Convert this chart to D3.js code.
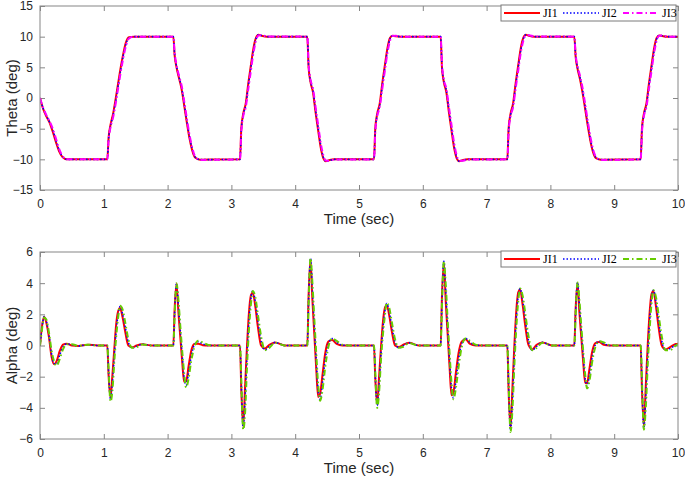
<!DOCTYPE html>
<html lang="en">
<head>
<meta charset="utf-8">
<title>Theta and Alpha response</title>
<script src="https://cdnjs.cloudflare.com/ajax/libs/d3/7.8.5/d3.min.js"></script>
<style>
body { margin: 0; background: #fff; }
svg { display: block; }
.tick text { font: 12px "Liberation Sans", Arial, sans-serif; fill: #262626; }
.tick line { stroke: #868686; }
.axis-title { font: 15px "Liberation Sans", Arial, sans-serif; fill: #262626; }
.legend text { font: 12px "Liberation Serif", "Times New Roman", serif; fill: #000; }
</style>
</head>
<body>
<div id="chart"></div>
<script>
// tick values
var timeTicks = [0, 1, 2, 3, 4, 5, 6, 7, 8, 9, 10];
var thetaTicks = [-15, -10, -5, 0, 5, 10, 15];
var alphaTicks = [-6, -4, -2, 0, 2, 4, 6];
var seriesNames = ["JI1", "JI2", "JI3"];

// Theta (deg), one line per transition
var thetaTime = [
  0, 0.05, 0.1, 0.15, 0.2, 0.25, 0.3, 0.35, 0.42,
  1.055, 1.075, 1.105, 1.145, 1.185, 1.225, 1.265, 1.305, 1.345, 1.395, 1.475,
  2.09, 2.11, 2.14, 2.18, 2.22, 2.26, 2.30, 2.34, 2.38, 2.43, 2.51,
  3.135, 3.155, 3.185, 3.225, 3.265, 3.305, 3.345, 3.385, 3.425, 3.475, 3.555,
  4.19, 4.21, 4.24, 4.28, 4.32, 4.36, 4.40, 4.44, 4.48, 4.53, 4.61,
  5.235, 5.255, 5.285, 5.325, 5.365, 5.405, 5.445, 5.485, 5.525, 5.575, 5.655,
  6.28, 6.30, 6.33, 6.37, 6.41, 6.45, 6.49, 6.53, 6.57, 6.62, 6.70,
  7.325, 7.345, 7.375, 7.415, 7.455, 7.495, 7.535, 7.575, 7.615, 7.665, 7.745,
  8.375, 8.395, 8.425, 8.465, 8.505, 8.545, 8.585, 8.625, 8.665, 8.715, 8.795,
  9.415, 9.435, 9.465, 9.505, 9.545, 9.585, 9.625, 9.665, 9.705, 9.755, 9.835,
  10
];
var thetaJ1 = [
  0, -1.8, -3.0, -4.0, -5.5, -7.2, -8.7, -9.6, -10,
  -10, -6.5, -4.4, -2.6, -0.2, 2.4, 5.0, 7.2, 9.0, 9.9, 10.0,
  10, 7.0, 5.0, 3.2, 1.4, -1.2, -3.9, -6.4, -8.3, -9.7, -10.05,
  -10, -5.0, -2.6, -0.9, 2.4, 5.3, 8.1, 9.8, 10.3, 10.15, 10.0,
  10, 5.0, 2.6, 0.9, -2.4, -5.3, -8.1, -9.8, -10.3, -10.15, -10.0,
  -10, -5.0, -2.6, -0.9, 2.4, 5.3, 8.1, 9.8, 10.15, 10.05, 10.0,
  10, 5.0, 2.6, 0.9, -2.4, -5.3, -8.1, -9.8, -10.3, -10.15, -10.0,
  -10, -5.0, -2.6, -0.9, 2.4, 5.3, 8.1, 9.8, 10.3, 10.15, 10.0,
  10, 6.8, 4.8, 3.0, 0.8, -1.8, -4.5, -6.9, -8.7, -9.8, -10.05,
  -10, -5.0, -2.6, -0.9, 2.4, 5.3, 8.1, 9.8, 10.2, 10.1, 10.0,
  10
];
var thetaJ2 = [
  0, -1.7, -2.9, -3.9, -5.2, -6.9, -8.5, -9.5, -10,
  -10, -6.7, -4.6, -2.9, -0.6, 2.0, 4.6, 6.9, 8.7, 9.8, 10.0,
  10, 7.2, 5.2, 3.4, 1.7, -0.9, -3.6, -6.1, -8.1, -9.6, -10.05,
  -10, -5.3, -2.8, -1.2, 2.0, 4.9, 7.7, 9.6, 10.3, 10.2, 10.0,
  10, 5.3, 2.8, 1.2, -2.0, -4.9, -7.7, -9.6, -10.3, -10.2, -10.0,
  -10, -5.3, -2.8, -1.2, 2.0, 4.9, 7.7, 9.6, 10.15, 10.1, 10.0,
  10, 5.3, 2.8, 1.2, -2.0, -4.9, -7.7, -9.6, -10.3, -10.2, -10.0,
  -10, -5.3, -2.8, -1.2, 2.0, 4.9, 7.7, 9.6, 10.3, 10.2, 10.0,
  10, 7.0, 5.0, 3.3, 1.2, -1.4, -4.1, -6.6, -8.5, -9.7, -10.05,
  -10, -5.3, -2.8, -1.2, 2.0, 4.9, 7.7, 9.6, 10.2, 10.15, 10.0,
  10
];
var thetaJ3 = [
  0, -1.6, -2.8, -3.8, -5.0, -6.6, -8.3, -9.4, -10,
  -10, -6.9, -4.8, -3.2, -1.0, 1.6, 4.2, 6.5, 8.4, 9.7, 10.0,
  10, 7.4, 5.4, 3.6, 2.0, -0.5, -3.2, -5.8, -7.8, -9.5, -10.1,
  -10, -5.6, -3.0, -1.5, 1.5, 4.4, 7.3, 9.3, 10.2, 10.25, 10.05,
  10, 5.6, 3.0, 1.5, -1.5, -4.4, -7.3, -9.3, -10.2, -10.25, -10.05,
  -10, -5.6, -3.0, -1.5, 1.5, 4.4, 7.3, 9.3, 10.1, 10.15, 10.0,
  10, 5.6, 3.0, 1.5, -1.5, -4.4, -7.3, -9.3, -10.2, -10.25, -10.05,
  -10, -5.6, -3.0, -1.5, 1.5, 4.4, 7.3, 9.3, 10.2, 10.25, 10.05,
  10, 7.2, 5.2, 3.6, 1.6, -1.0, -3.7, -6.2, -8.2, -9.6, -10.1,
  -10, -5.6, -3.0, -1.5, 1.5, 4.4, 7.3, 9.3, 10.15, 10.2, 10.0,
  10
];

// Alpha (deg), one line per swing
var alphaTime = [
  0, 0.03, 0.065, 0.1, 0.14, 0.18, 0.22, 0.26, 0.31, 0.36, 0.42, 0.5, 0.6, 0.75, 0.9,
  1.055, 1.075, 1.105, 1.135, 1.165, 1.195, 1.225, 1.255, 1.295, 1.335, 1.385, 1.445, 1.515, 1.605, 1.755,
  2.09, 2.11, 2.14, 2.17, 2.2, 2.23, 2.26, 2.29, 2.33, 2.37, 2.42, 2.48, 2.55, 2.64, 2.79,
  3.135, 3.155, 3.185, 3.215, 3.245, 3.275, 3.305, 3.335, 3.375, 3.415, 3.465, 3.525, 3.595, 3.685, 3.835,
  4.19, 4.21, 4.24, 4.27, 4.3, 4.33, 4.36, 4.39, 4.43, 4.47, 4.52, 4.58, 4.65, 4.74, 4.89,
  5.235, 5.255, 5.285, 5.315, 5.345, 5.375, 5.405, 5.435, 5.475, 5.515, 5.565, 5.625, 5.695, 5.785, 5.935,
  6.28, 6.3, 6.33, 6.36, 6.39, 6.42, 6.45, 6.48, 6.52, 6.56, 6.61, 6.67, 6.74, 6.83, 6.98,
  7.325, 7.345, 7.375, 7.405, 7.435, 7.465, 7.495, 7.525, 7.565, 7.605, 7.655, 7.715, 7.785, 7.875, 8.025,
  8.375, 8.395, 8.425, 8.455, 8.485, 8.515, 8.545, 8.575, 8.615, 8.655, 8.705, 8.765, 8.835, 8.925, 9.075,
  9.415, 9.435, 9.465, 9.495, 9.525, 9.555, 9.585, 9.615, 9.655, 9.695, 9.745, 9.805, 9.875, 9.965,
  10
];
var alphaJ1 = [
  0, 1.2, 1.85, 1.45, 0.55, -0.7, -1.2, -1.0, -0.35, 0.05, 0.12, 0.0, -0.03, 0.05, 0,
  0, -1.9, -3.35, -1.9, -0.2, 1.4, 2.2, 2.4, 1.8, 0.9, 0.0, -0.12, 0.0, 0.08, 0,
  0, 2.3, 3.95, 2.1, 0.5, -1.1, -2.35, -2.3, -1.3, -0.35, 0.1, 0.12, 0.02, 0.0, 0,
  0, -2.8, -5.2, -2.6, 0.0, 2.1, 3.2, 3.4, 2.5, 1.2, 0.0, -0.2, 0.05, 0.2, 0,
  0, 3.2, 5.5, 2.9, 0.7, -1.5, -3.3, -3.1, -1.8, -0.5, 0.25, 0.35, 0.1, 0.0, 0,
  0, -2.1, -3.75, -2.0, -0.1, 1.5, 2.4, 2.6, 1.9, 0.9, 0.0, -0.1, 0.05, 0.18, 0,
  0, 3.1, 5.3, 2.8, 0.7, -1.4, -3.2, -3.0, -1.7, -0.5, 0.25, 0.4, 0.1, 0.0, 0,
  0, -2.9, -5.3, -2.7, 0.0, 2.2, 3.4, 3.6, 2.6, 1.3, 0.05, -0.25, 0.05, 0.2, 0,
  0, 2.3, 4.0, 2.1, 0.5, -1.1, -2.4, -2.4, -1.4, -0.4, 0.15, 0.22, 0.05, 0.0, 0,
  0, -2.8, -5.15, -2.6, 0.0, 2.1, 3.3, 3.5, 2.5, 1.2, 0.0, -0.25, -0.1, 0.1,
  0.12
];
var alphaJ2 = [
  0, 1.1, 1.85, 1.55, 0.7, -0.5, -1.15, -1.2, -0.6, -0.1, 0.1, 0.05, -0.03, 0.05, 0,
  0, -1.7, -3.45, -2.4, -0.6, 1.0, 2.0, 2.5, 2.0, 1.2, 0.2, -0.15, -0.05, 0.08, 0,
  0, 2.1, 4.0, 2.5, 0.9, -0.7, -2.1, -2.55, -1.7, -0.7, 0.05, 0.25, 0.1, 0.0, 0,
  0, -2.5, -5.3, -3.3, -0.6, 1.6, 3.0, 3.5, 2.8, 1.6, 0.3, -0.28, -0.05, 0.2, 0,
  0, 2.9, 5.6, 3.5, 1.2, -1.0, -2.9, -3.45, -2.3, -0.9, 0.1, 0.45, 0.2, 0.02, 0,
  0, -1.9, -3.85, -2.5, -0.5, 1.1, 2.2, 2.7, 2.1, 1.2, 0.2, -0.15, 0.0, 0.18, 0,
  0, 2.8, 5.4, 3.4, 1.1, -1.0, -2.8, -3.35, -2.2, -0.9, 0.1, 0.45, 0.2, 0.02, 0,
  0, -2.6, -5.45, -3.4, -0.6, 1.7, 3.2, 3.65, 2.9, 1.7, 0.35, -0.3, -0.05, 0.2, 0,
  0, 2.1, 4.05, 2.5, 0.9, -0.7, -2.15, -2.6, -1.8, -0.75, 0.05, 0.27, 0.12, 0.0, 0,
  0, -2.5, -5.3, -3.3, -0.6, 1.6, 3.1, 3.55, 2.8, 1.6, 0.3, -0.3, -0.2, 0.05,
  0.12
];
var alphaJ3 = [
  0, 1.0, 1.8, 1.65, 0.85, -0.3, -1.0, -1.3, -0.85, -0.25, 0.08, 0.08, -0.02, 0.05, 0,
  0, -1.5, -3.6, -2.9, -1.0, 0.6, 1.8, 2.55, 2.3, 1.5, 0.4, -0.15, -0.1, 0.06, 0,
  0, 1.9, 4.0, 2.9, 1.2, -0.4, -1.8, -2.7, -2.1, -1.0, -0.1, 0.3, 0.2, 0.03, 0,
  0, -2.2, -5.4, -4.3, -1.3, 1.0, 2.6, 3.5, 3.1, 2.0, 0.6, -0.3, -0.15, 0.18, 0,
  0, 2.6, 5.6, 4.0, 1.7, -0.5, -2.5, -3.55, -2.8, -1.4, -0.1, 0.45, 0.3, 0.05, 0,
  0, -1.7, -4.0, -3.0, -0.9, 0.7, 1.9, 2.75, 2.4, 1.5, 0.4, -0.15, -0.08, 0.15, 0,
  0, 2.5, 5.4, 3.9, 1.6, -0.5, -2.4, -3.45, -2.7, -1.4, -0.1, 0.45, 0.3, 0.05, 0,
  0, -2.3, -5.55, -4.1, -1.3, 1.1, 2.8, 3.65, 3.2, 2.1, 0.65, -0.3, -0.15, 0.18, 0,
  0, 1.9, 4.05, 2.9, 1.2, -0.4, -1.85, -2.75, -2.2, -1.05, -0.1, 0.27, 0.2, 0.03, 0,
  0, -2.2, -5.4, -4.0, -1.3, 1.0, 2.7, 3.55, 3.1, 2.0, 0.6, -0.3, -0.3, 0.0,
  0.1
];

var W = 685, H = 477;
var plotLeft = 40, plotRight = 678;
var axisGray = "#868686";

var svg = d3.select("#chart").append("svg")
  .attr("width", W)
  .attr("height", H);

var x = d3.scaleLinear().domain([0, 10]).range([plotLeft, plotRight]);

function drawPanel(cfg) {
  var y = d3.scaleLinear().domain([cfg.ticks[0], cfg.ticks[cfg.ticks.length - 1]]).range([cfg.bottom, cfg.top]);
  var g = svg.append("g");

  g.append("clipPath").attr("id", cfg.id + "-clip")
    .append("rect")
    .attr("x", plotLeft).attr("y", cfg.top)
    .attr("width", plotRight - plotLeft).attr("height", cfg.bottom - cfg.top);

  // inward ticks on all four sides, labels only left/bottom
  g.append("g").attr("transform", "translate(0," + cfg.bottom + ")")
    .call(d3.axisBottom(x).tickValues(timeTicks).tickSize(-5).tickPadding(9).tickFormat(d3.format("d")))
    .call(function(a) { a.select(".domain").remove(); });
  g.append("g").attr("transform", "translate(0," + cfg.top + ")")
    .call(d3.axisTop(x).tickValues(timeTicks).tickSize(-5).tickFormat(""))
    .call(function(a) { a.select(".domain").remove(); });
  g.append("g").attr("transform", "translate(" + plotLeft + ",0)")
    .call(d3.axisLeft(y).tickValues(cfg.ticks).tickSize(-5).tickPadding(7).tickFormat(d3.format("d")))
    .call(function(a) { a.select(".domain").remove(); });
  g.append("g").attr("transform", "translate(" + plotRight + ",0)")
    .call(d3.axisRight(y).tickValues(cfg.ticks).tickSize(-5).tickFormat(""))
    .call(function(a) { a.select(".domain").remove(); });

  g.selectAll(".tick line").attr("stroke", axisGray);

  var line = d3.line()
    .x(function(d) { return x(d[0]); })
    .y(function(d) { return y(d[1]); })
    .curve(d3.curveMonotoneX);

  var lines = g.append("g").attr("clip-path", "url(#" + cfg.id + "-clip)");
  cfg.series.forEach(function(s, i) {
    var pts = cfg.time.map(function(t, k) { return [t, s[k]]; });
    lines.append("path")
      .attr("d", line(pts))
      .attr("fill", "none")
      .attr("stroke", cfg.colors[i])
      .attr("stroke-width", cfg.widths[i])
      .attr("stroke-dasharray", cfg.dashes[i])
      .attr("stroke-linejoin", "round");
  });

  // box
  g.append("rect")
    .attr("x", plotLeft).attr("y", cfg.top)
    .attr("width", plotRight - plotLeft).attr("height", cfg.bottom - cfg.top)
    .attr("fill", "none").attr("stroke", axisGray).attr("stroke-width", 1);

  g.append("text").attr("class", "axis-title")
    .attr("x", (plotLeft + plotRight) / 2).attr("y", cfg.bottom + 34)
    .attr("text-anchor", "middle")
    .text("Time (sec)");

  g.append("text").attr("class", "axis-title")
    .attr("transform", "translate(17," + ((cfg.top + cfg.bottom) / 2) + ") rotate(-90)")
    .attr("text-anchor", "middle")
    .text(cfg.label);

  // legend
  var lg = g.append("g").attr("class", "legend");
  lg.append("rect")
    .attr("x", 501).attr("y", cfg.top - 1)
    .attr("width", 175).attr("height", 16)
    .attr("fill", "#fff").attr("stroke", "#7a7a7a").attr("stroke-width", 1);
  var itemX = [504, 563, 623];
  seriesNames.forEach(function(name, i) {
    lg.append("line")
      .attr("x1", itemX[i]).attr("x2", itemX[i] + 36)
      .attr("y1", cfg.top + 7).attr("y2", cfg.top + 7)
      .attr("stroke", cfg.colors[i])
      .attr("stroke-width", cfg.widths[i])
      .attr("stroke-dasharray", cfg.dashes[i]);
    lg.append("text")
      .attr("x", itemX[i] + 39).attr("y", cfg.top + 11)
      .text(name);
  });
}

drawPanel({
  id: "theta", top: 6, bottom: 190, ticks: thetaTicks, label: "Theta (deg)",
  time: thetaTime, series: [thetaJ1, thetaJ2, thetaJ3],
  colors: ["#ff0000", "#0000ff", "#ff00ff"],
  widths: [2, 1.6, 2],
  dashes: [null, "1.5,2", "6,3,1.5,3"]
});

drawPanel({
  id: "alpha", top: 252, bottom: 439, ticks: alphaTicks, label: "Alpha (deg)",
  time: alphaTime, series: [alphaJ1, alphaJ2, alphaJ3],
  colors: ["#ff0000", "#0000ff", "#66cc00"],
  widths: [2, 1.6, 2],
  dashes: [null, "1.5,2", "6,3,1.5,3"]
});
</script>
</body>
</html>
